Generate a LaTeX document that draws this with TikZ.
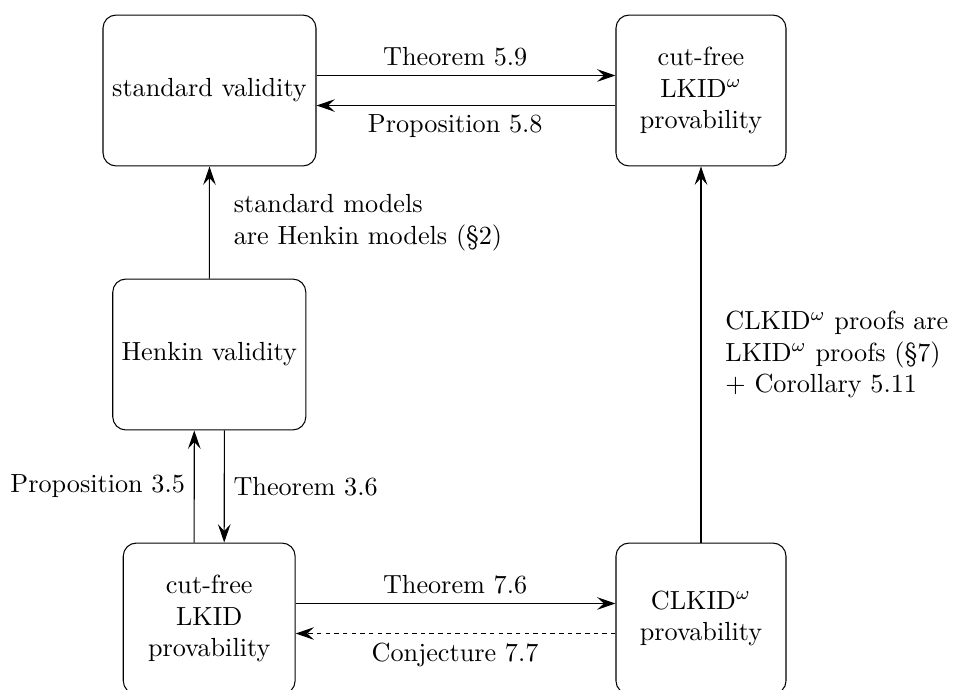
\documentclass[tikz,border=0pt]{standalone}
\usetikzlibrary{arrows.meta}
\begin{document}
\begin{tikzpicture}[x=0.38168pt,y=-0.38168pt,
  box/.style={draw, rounded corners=5pt, align=center, minimum height=57.6pt, inner sep=3.33pt},
  arr/.style={-{Stealth[length=7pt,width=4.8pt,inset=2.6pt]}},
  dsh/.style={dash pattern=on 1.7pt off 1.6pt}]
\useasboundingbox (0,0) rectangle (953,690);
\node[box, minimum width=81.3pt] (sv) at (209.5,90.5) {standard validity};
\node[box, minimum width=64.9pt] (cf) at (701,90.5) {cut-free\\LKID$^\omega$\\provability};
\node[box, minimum width=73.7pt] (hv) at (209.3,354.5) {Henkin validity};
\node[box, minimum width=65.6pt] (lk) at (209.2,618.5) {cut-free\\LKID\\provability};
\node[box, minimum width=64.9pt] (cl) at (701,618.5) {CLKID$^\omega$\\provability};
\draw[arr] ([yshift=5.73pt]sv.east) -- ([yshift=5.73pt]cf.west);
\path ([yshift=5.73pt]sv.center) -- ([yshift=5.73pt]cf.center) node[midway, above] (l1) {Theorem 5.9};
\draw[arr] ([yshift=-5.73pt]cf.west) -- ([yshift=-5.73pt]sv.east);
\path ([yshift=-5.73pt]sv.center) -- ([yshift=-5.73pt]cf.center) node[midway, below] (l2) {Proposition 5.8};
\draw[arr] (hv.north) -- (sv.south) node[midway, right, xshift=5.8pt, align=left] (l3) {standard models\\are Henkin models (\S2)};
\draw[arr] ([xshift=-5.73pt]lk.north) -- ([xshift=-5.73pt]hv.south) node[midway, left] (l4) {Proposition 3.5};
\draw[arr] ([xshift=5.73pt]hv.south) -- ([xshift=5.73pt]lk.north) node[midway, right] (l5) {Theorem 3.6};
\draw[arr] ([yshift=5.73pt]lk.east) -- ([yshift=5.73pt]cl.west);
\path ([yshift=5.73pt]lk.center) -- ([yshift=5.73pt]cl.center) node[midway, above] (l6) {Theorem 7.6};
\draw[arr, dsh] ([yshift=-5.73pt]cl.west) -- ([yshift=-5.73pt]lk.east);
\path ([yshift=-5.73pt]lk.center) -- ([yshift=-5.73pt]cl.center) node[midway, below] (l7) {Conjecture 7.7};
\draw[arr] (cl.north) -- (cf.south) node[midway, right, xshift=5.8pt, align=left] (l8) {CLKID$^\omega$ proofs are\\LKID$^\omega$ proofs (\S7)\\+ Corollary 5.11};
\end{tikzpicture}
\end{document}
